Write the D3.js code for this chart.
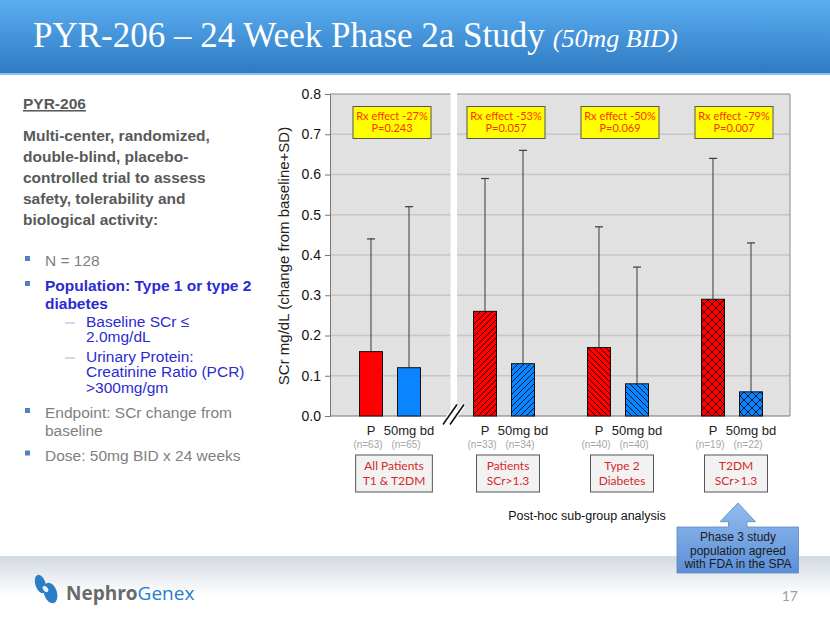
<!DOCTYPE html>
<html><head><meta charset="utf-8">
<script src="https://cdn.jsdelivr.net/npm/d3@7"></script>
<style>body{margin:0;background:#fff} svg{display:block}</style>
</head><body><svg id="c" width="830" height="623"></svg>
<script>
// ---------- data ----------
const groups = ["All Patients|T1 & T2DM", "Patients|SCr>1.3", "Type 2|Diabetes", "T2DM|SCr>1.3"];
const arms = ["P", "50mg bd"];
const placeboMean = [0.16, 0.26, 0.17, 0.29];
const placeboSD   = [0.28, 0.33, 0.30, 0.35];
const drugMean    = [0.12, 0.13, 0.08, 0.06];
const drugSD      = [0.40, 0.53, 0.29, 0.37];
const placeboN    = [63, 33, 40, 19];
const drugN       = [65, 34, 40, 22];
const rxEffect    = ["-27%", "-53%", "-50%", "-79%"];
const pValues     = ["0.243", "0.057", "0.069", "0.007"];
const hatch       = ["none", "fwd", "back", "cross"];
const yTicks      = [0.0, 0.1, 0.2, 0.3, 0.4, 0.5, 0.6, 0.7, 0.8];

const titleMain = "PYR-206 \u2013 24 Week Phase 2a Study";
const titleSub = "(50mg BID)";

const svg = d3.select("#c");
const defs = svg.append("defs");

// gradients
const hg = defs.append("linearGradient").attr("id","hdr").attr("x1",0).attr("y1",0).attr("x2",0).attr("y2",1);
hg.append("stop").attr("offset","0%").attr("stop-color","#5badf0");
hg.append("stop").attr("offset","100%").attr("stop-color","#2f7bc3");
const fg = defs.append("linearGradient").attr("id","ftr").attr("x1",0).attr("y1",0).attr("x2",0).attr("y2",1);
fg.append("stop").attr("offset","0%").attr("stop-color","#d3dae2");
fg.append("stop").attr("offset","60%").attr("stop-color","#ffffff");
const cg = defs.append("linearGradient").attr("id","callout").attr("x1",0).attr("y1",0).attr("x2",0).attr("y2",1);
cg.append("stop").attr("offset","0%").attr("stop-color","#93bcee");
cg.append("stop").attr("offset","100%").attr("stop-color","#5b8fd8");

// hatch patterns
function pat(id, size, d) {
  const p = defs.append("pattern").attr("id", id).attr("patternUnits","userSpaceOnUse")
    .attr("width", size).attr("height", size);
  p.append("path").attr("d", d).attr("stroke","#000").attr("stroke-width",0.8).attr("fill","none");
}
pat("fwd", 6, "M-1,1 l2,-2 M0,6 l6,-6 M5,7 l2,-2");
pat("back", 6, "M-1,5 l2,2 M0,0 l6,6 M5,-1 l2,2");
pat("cross", 8, "M0,0 l8,8 M-1,7 l2,2 M7,-1 l2,2 M0,8 l8,-8 M-1,1 l2,-2 M7,9 l2,-2");

// ---------- header ----------
svg.append("rect").attr("x",0).attr("y",0).attr("width",830).attr("height",73).attr("fill","url(#hdr)");
svg.append("rect").attr("x",0).attr("y",73).attr("width",830).attr("height",2).attr("fill","#8cc0ec");
const tt = svg.append("text").attr("x",33).attr("y",47).attr("fill","#fff")
  .style("font-family","'Liberation Serif', 'DejaVu Serif', serif");
tt.append("tspan").style("font-size","35px").text(titleMain);
tt.append("tspan").attr("dx",8).style("font-size","26px").style("font-style","italic").text(titleSub);

// ---------- footer ----------
svg.append("rect").attr("x",0).attr("y",556).attr("width",830).attr("height",67).attr("fill","url(#ftr)");
// logo
const logo = svg.append("g").attr("fill","#2a7dc8");
logo.append("ellipse").attr("cx",0).attr("cy",0).attr("rx",5.2).attr("ry",9.5)
  .attr("transform","translate(40.5,584) rotate(-18)");
logo.append("ellipse").attr("cx",0).attr("cy",0).attr("rx",6.5).attr("ry",10.5)
  .attr("transform","translate(50.5,593) rotate(-18)");
logo.append("ellipse").attr("cx",0).attr("cy",0).attr("rx",2.2).attr("ry",3.5).attr("fill","#eef2f6")
  .attr("transform","translate(45.5,589) rotate(-40)");
const lt = svg.append("text").attr("x",66).attr("y",600).style("font-family","'Open Sans', Arial, sans-serif").style("font-size","19px");
lt.append("tspan").attr("fill","#6a6a6a").style("font-weight","bold").text("Nephro");
lt.append("tspan").attr("fill","#2a7dc8").text("Genex");
svg.append("text").attr("x",798).attr("y",601).attr("text-anchor","end").attr("fill","#a0a0a0")
  .style("font-family","Lato, sans-serif").style("font-size","14px").text("17");

// ---------- left text ----------
const LF = "'Liberation Sans', Arial, sans-serif";
const left = svg.append("g").style("font-family", LF);
left.append("text").attr("x",23).attr("y",109).attr("fill","#595959")
  .style("font-size","15.5px").style("font-weight","bold").style("text-decoration","underline").text("PYR-206");
const para = ["Multi-center, randomized,","double-blind, placebo-","controlled trial to assess","safety, tolerability and","biological activity:"];
para.forEach((s,i)=> left.append("text").attr("x",23).attr("y",140.5+i*21).attr("fill","#595959")
  .style("font-size","15.5px").style("font-weight","bold").text(s));
const bullets = [
  {y:266, lines:["N = 128"], color:"#7f7f7f", bold:false},
  {y:291, lines:["Population: Type 1 or type 2","diabetes"], color:"#2b2bd0", bold:true, lh:17.5},
  {y:418, lines:["Endpoint: SCr change from","baseline"], color:"#7f7f7f", bold:false, lh:17.5},
  {y:460.5, lines:["Dose: 50mg BID x 24 weeks"], color:"#7f7f7f", bold:false}
];
bullets.forEach(b=>{
  left.append("rect").attr("x",25).attr("y",b.y-10).attr("width",5).attr("height",5).attr("fill","#4f81bd");
  b.lines.forEach((s,i)=> left.append("text").attr("x",45).attr("y",b.y+i*(b.lh||17)).attr("fill",b.color)
    .style("font-size","15.5px").style("font-weight",b.bold?"bold":"normal").text(s));
});
const subs = [{y:327, lines:["Baseline SCr \u2264","2.0mg/dL"]},{y:362, lines:["Urinary Protein:","Creatinine Ratio (PCR)",">300mg/gm"]}];
subs.forEach(sb=>{
  left.append("line").attr("x1",65).attr("x2",75).attr("y1",sb.y-4).attr("y2",sb.y-4).attr("stroke","#9db6d8").attr("stroke-width",1);
  sb.lines.forEach((s,i)=> left.append("text").attr("x",86).attr("y",sb.y+i*15.3).attr("fill","#2b2bd0")
    .style("font-size","15.5px").text(s));
});

// ---------- chart ----------
const plotL = 330, plotR = 790, plotT = 94, plotB = 416;
const y = d3.scaleLinear().domain([0, 0.8]).range([plotB, plotT]);
const x0 = d3.scaleBand().domain(groups).range([333, 789]);
const bw = x0.bandwidth();
const x1 = d3.scaleBand().domain(arms).range([bw/2 - 30.5, bw/2 + 30.5]).paddingInner(0.395);

const chart = svg.append("g").style("font-family", LF);
chart.append("rect").attr("x",plotL).attr("y",plotT).attr("width",plotR-plotL).attr("height",plotB-plotT).attr("fill","#e1e1e1");
chart.selectAll("line.grid").data(yTicks.filter(d=>d>0 && d<0.8)).join("line").attr("class","grid")
  .attr("x1",plotL).attr("x2",plotR).attr("y1",d=>y(d)).attr("y2",d=>y(d))
  .attr("stroke","#c6c6c6").attr("stroke-width",1.3);
chart.append("path").attr("d",`M${plotL},${plotT}H${plotR}V${plotB}`).attr("fill","none").attr("stroke","#8a8a8a").attr("stroke-width",1);
chart.append("line").attr("x1",plotL).attr("x2",plotR).attr("y1",plotB).attr("y2",plotB).attr("stroke","#777").attr("stroke-width",1.2);

// axis
const ax = chart.append("g").attr("transform",`translate(${plotL},0)`)
  .call(d3.axisLeft(y).tickValues(yTicks).tickFormat(d3.format(".1f")).tickSize(5).tickPadding(4));
ax.select(".domain").attr("stroke","#777");
ax.selectAll(".tick line").attr("stroke","#777");
ax.selectAll("text").style("font-size","14px").style("font-family",LF).attr("fill","#111");
chart.append("text").attr("transform",`translate(289,${(plotT+plotB)/2 + 1}) rotate(-90)`)
  .attr("text-anchor","middle").attr("fill","#222").style("font-size","15px")
  .text("SCr mg/dL (change from baseline+SD)");

// bars
const rows = [];
groups.forEach((g,i)=>{
  rows.push({g, arm:arms[0], mean:placeboMean[i], sd:placeboSD[i], n:placeboN[i], color:"#ff0000", hatch:hatch[i]});
  rows.push({g, arm:arms[1], mean:drugMean[i], sd:drugSD[i], n:drugN[i], color:"#0a84ff", hatch:hatch[i]});
});
const bx = d => x0(d.g) + x1(d.arm);
const bcx = d => bx(d) + x1.bandwidth()/2;
chart.selectAll("line.err").data(rows).join("line").attr("class","err")
  .attr("x1",bcx).attr("x2",bcx).attr("y1",d=>y(d.mean)).attr("y2",d=>y(d.mean+d.sd))
  .attr("stroke","#3a3a3a").attr("stroke-width",1);
chart.selectAll("line.cap").data(rows).join("line").attr("class","cap")
  .attr("x1",d=>bcx(d)-4).attr("x2",d=>bcx(d)+4).attr("y1",d=>y(d.mean+d.sd)).attr("y2",d=>y(d.mean+d.sd))
  .attr("stroke","#3a3a3a").attr("stroke-width",1.2);
chart.selectAll("rect.bar").data(rows).join("rect").attr("class","bar")
  .attr("x",bx).attr("width",x1.bandwidth()).attr("y",d=>y(d.mean)).attr("height",d=>plotB-y(d.mean))
  .attr("fill",d=>d.color);
chart.selectAll("rect.hatch").data(rows.filter(d=>d.hatch!=="none")).join("rect").attr("class","hatch")
  .attr("x",bx).attr("width",x1.bandwidth()).attr("y",d=>y(d.mean)).attr("height",d=>plotB-y(d.mean))
  .attr("fill",d=>`url(#${d.hatch})`);
chart.selectAll("rect.outline").data(rows).join("rect").attr("class","outline")
  .attr("x",bx).attr("width",x1.bandwidth()).attr("y",d=>y(d.mean)).attr("height",d=>plotB-y(d.mean))
  .attr("fill","none").attr("stroke","#111").attr("stroke-width",1);

// axis break (white gap + slashes)
const breakX = x0(groups[1]) + 3.5;
chart.append("rect").attr("x",breakX).attr("y",plotT-1).attr("width",6.5).attr("height",plotB-plotT+2).attr("fill","#fff");
const brk = chart.append("g").attr("transform",`translate(${breakX+3},414.5)`);
[-3.5,3.5].forEach(dx=>{
  brk.append("line").attr("x1",dx-7).attr("y1",10).attr("x2",dx+7).attr("y2",-10).attr("stroke","#fff").attr("stroke-width",4);
});
[-3.5,3.5].forEach(dx=>{
  brk.append("line").attr("x1",dx-7).attr("y1",10).attr("x2",dx+7).attr("y2",-10).attr("stroke","#111").attr("stroke-width",1.6);
});

// yellow effect boxes
const eff = chart.selectAll("g.eff").data(groups).join("g").attr("class","eff")
  .attr("transform",(g)=>`translate(${x0(g)+bw/2+2},0)`);
eff.append("rect").attr("x",-39).attr("y",106.5).attr("width",78).attr("height",32)
  .attr("fill","#ffff00").attr("stroke","#555").attr("stroke-width",1);
eff.append("text").attr("text-anchor","middle").attr("y",119.5).attr("fill","#ff3000")
  .style("font-family","Lato, sans-serif").style("font-size","11px").text((g,i)=>"Rx effect " + rxEffect[i]);
eff.append("text").attr("text-anchor","middle").attr("y",131.5).attr("fill","#ff3000")
  .style("font-family","Lato, sans-serif").style("font-size","11px").text((g,i)=>"P=" + pValues[i]);

// arm labels & n
chart.selectAll("text.arm").data(rows).join("text").attr("class","arm")
  .attr("x",bcx).attr("y",435).attr("text-anchor","middle").attr("fill","#222").style("font-size","13px")
  .text(d=>d.arm);
chart.selectAll("text.n").data(rows).join("text").attr("class","n")
  .attr("x",d=>bcx(d)-3).attr("y",447.5).attr("text-anchor","middle").attr("fill","#a6a6a6").style("font-size","10px")
  .text(d=>`(n=${d.n})`);

// group label boxes
const gl = chart.selectAll("g.gl").data(groups).join("g").attr("class","gl")
  .attr("transform",g=>`translate(${x0(g)+bw/2+4},0)`);
gl.each(function(g){
  const sel = d3.select(this);
  const lines = g.split("|");
  const rect = sel.append("rect").attr("y",455).attr("height",37).attr("fill","#f2f2f2").attr("stroke","#555").attr("stroke-width",1);
  let mw = 0;
  lines.forEach((s,i)=>{
    const t = sel.append("text").attr("text-anchor","middle").attr("y",469.5+i*15.5).attr("fill","#d42a2a")
      .style("font-family","Lato, sans-serif").style("font-size","12px").text(s);
    mw = Math.max(mw, t.node().getComputedTextLength());
  });
  const w = Math.max(63, mw + 14);
  rect.attr("x",-w/2).attr("width",w);
});

svg.append("text").attr("x",587).attr("y",519.5).attr("text-anchor","middle").attr("fill","#111")
  .style("font-family",LF).style("font-size","12.5px").text("Post-hoc sub-group analysis");

// callout arrow
const cx = x0(groups[3]) + bw/2 + 6;
svg.append("path")
  .attr("d",`M${cx},503 L${cx+17.5},521.7 L${cx+9},521.7 L${cx+9},527 L${cx+60.5},527 L${cx+60.5},573 L${cx-61},573 L${cx-61},527 L${cx-9.5},527 L${cx-9.5},521.7 L${cx-18},521.7 Z`)
  .attr("fill","url(#callout)").attr("stroke","#5d86bf").attr("stroke-width",0.8);
["Phase 3 study","population agreed","with FDA in the SPA"].forEach((s,i)=>
  svg.append("text").attr("x",cx).attr("y",541+i*13.7).attr("text-anchor","middle").attr("fill","#1a1a1a")
    .style("font-family",LF).style("font-size","12px").text(s));
</script></body></html>
